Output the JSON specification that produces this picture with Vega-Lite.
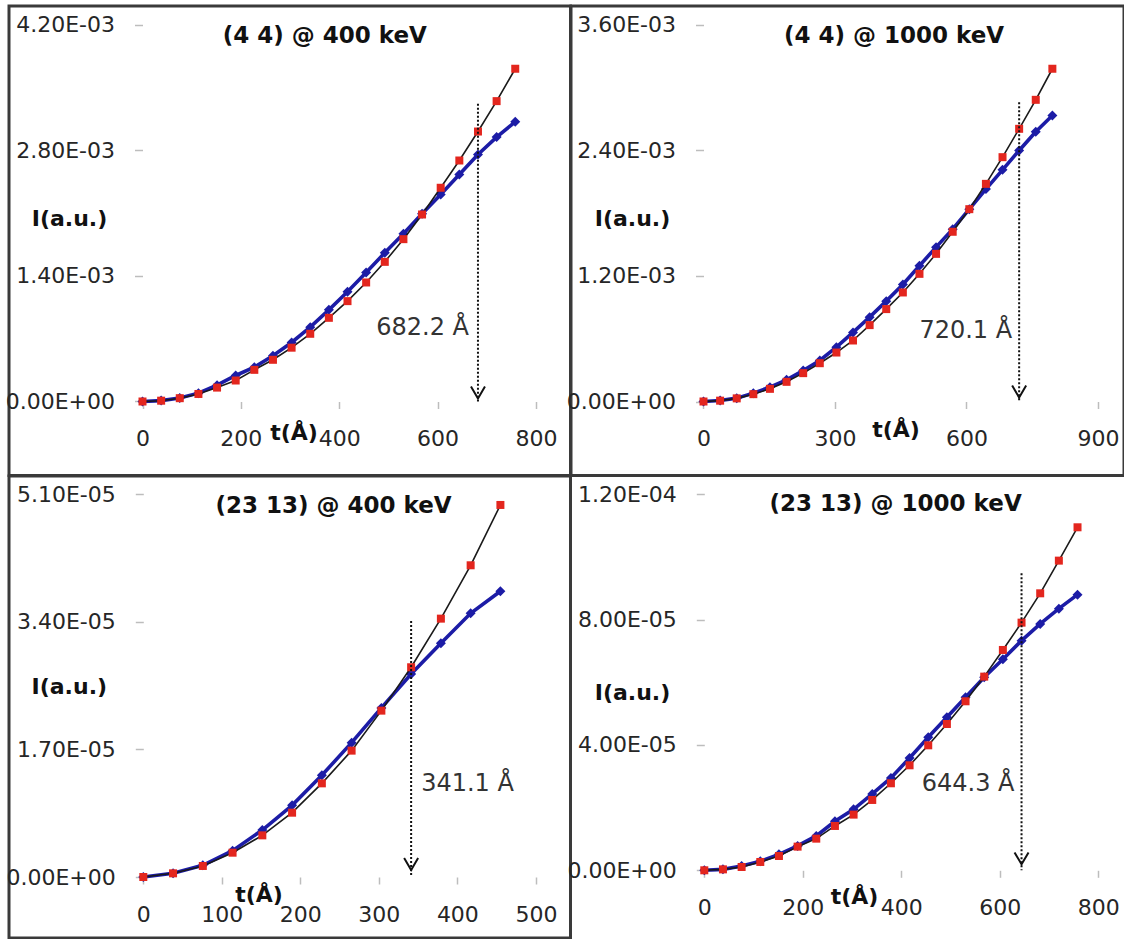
{
  "$schema": "https://vega.github.io/schema/vega-lite/v6.json",
  "background": "white",
  "padding": {"left": 3, "top": 4, "right": 0, "bottom": 0},
  "datasets": {
    "p1": [
      {"t": 0, "red": 0, "blue": 0},
      {"t": 37.9, "red": 0.000009, "blue": 0.00001},
      {"t": 75.8, "red": 0.000037, "blue": 0.00004},
      {"t": 113.7, "red": 0.000084, "blue": 0.000093},
      {"t": 151.6, "red": 0.000155, "blue": 0.000182},
      {"t": 189.5, "red": 0.000234, "blue": 0.00029},
      {"t": 227.4, "red": 0.000353, "blue": 0.000383},
      {"t": 265.3, "red": 0.000465, "blue": 0.00051},
      {"t": 303.2, "red": 0.0006, "blue": 0.000658},
      {"t": 341.1, "red": 0.000755, "blue": 0.000829},
      {"t": 379, "red": 0.000933, "blue": 0.001022},
      {"t": 416.9, "red": 0.001119, "blue": 0.001223},
      {"t": 454.8, "red": 0.001327, "blue": 0.001438},
      {"t": 492.7, "red": 0.001557, "blue": 0.001658},
      {"t": 530.6, "red": 0.00181, "blue": 0.00187},
      {"t": 568.5, "red": 0.002085, "blue": 0.002093},
      {"t": 606.4, "red": 0.002383, "blue": 0.002308},
      {"t": 644.3, "red": 0.002687, "blue": 0.002531},
      {"t": 682.2, "red": 0.00301, "blue": 0.002754},
      {"t": 720.1, "red": 0.003349, "blue": 0.002948},
      {"t": 758, "red": 0.00371, "blue": 0.003119}
    ],
    "p2": [
      {"t": 0, "red": 0, "blue": 0},
      {"t": 37.9, "red": 0.000008, "blue": 0.00001},
      {"t": 75.8, "red": 0.00003, "blue": 0.000032},
      {"t": 113.7, "red": 0.00007, "blue": 0.00008},
      {"t": 151.6, "red": 0.000121, "blue": 0.000137},
      {"t": 189.5, "red": 0.000188, "blue": 0.000207},
      {"t": 227.4, "red": 0.000271, "blue": 0.000296},
      {"t": 265.3, "red": 0.000366, "blue": 0.000392},
      {"t": 303.2, "red": 0.000468, "blue": 0.000519},
      {"t": 341.1, "red": 0.000583, "blue": 0.00066},
      {"t": 379, "red": 0.00073, "blue": 0.000806},
      {"t": 416.9, "red": 0.000883, "blue": 0.000959},
      {"t": 454.8, "red": 0.001042, "blue": 0.001118},
      {"t": 492.7, "red": 0.00122, "blue": 0.001297},
      {"t": 530.6, "red": 0.001411, "blue": 0.001475},
      {"t": 568.5, "red": 0.001622, "blue": 0.001647},
      {"t": 606.4, "red": 0.001838, "blue": 0.001838},
      {"t": 644.3, "red": 0.00208, "blue": 0.00203},
      {"t": 682.2, "red": 0.002335, "blue": 0.002214},
      {"t": 720.1, "red": 0.002606, "blue": 0.002399},
      {"t": 758, "red": 0.002883, "blue": 0.002578},
      {"t": 795.9, "red": 0.00318, "blue": 0.002734}
    ],
    "p3": [
      {"t": 0, "red": 0, "blue": 0},
      {"t": 37.9, "red": 4.9e-7, "blue": 5e-7},
      {"t": 75.8, "red": 0.00000147, "blue": 0.00000156},
      {"t": 113.7, "red": 0.00000324, "blue": 0.00000351},
      {"t": 151.6, "red": 0.00000555, "blue": 0.00000626},
      {"t": 189.5, "red": 0.00000857, "blue": 0.00000955},
      {"t": 227.4, "red": 0.00001248, "blue": 0.00001355},
      {"t": 265.3, "red": 0.00001684, "blue": 0.0000179},
      {"t": 303.2, "red": 0.00002217, "blue": 0.00002253},
      {"t": 341.1, "red": 0.00002795, "blue": 0.00002706},
      {"t": 379, "red": 0.00003443, "blue": 0.00003115},
      {"t": 416.9, "red": 0.00004154, "blue": 0.00003514},
      {"t": 454.8, "red": 0.00004958, "blue": 0.00003808}
    ],
    "p4": [
      {"t": 0, "red": 0, "blue": 0},
      {"t": 37.9, "red": 3e-7, "blue": 3e-7},
      {"t": 75.8, "red": 0.00000106, "blue": 0.00000138},
      {"t": 113.7, "red": 0.00000266, "blue": 0.00000287},
      {"t": 151.6, "red": 0.00000457, "blue": 0.0000051},
      {"t": 189.5, "red": 0.00000755, "blue": 0.00000777},
      {"t": 227.4, "red": 0.0000101, "blue": 0.00001096},
      {"t": 265.3, "red": 0.00001415, "blue": 0.00001564},
      {"t": 303.2, "red": 0.00001777, "blue": 0.00001947},
      {"t": 341.1, "red": 0.00002245, "blue": 0.00002436},
      {"t": 379, "red": 0.00002777, "blue": 0.00002947},
      {"t": 416.9, "red": 0.00003351, "blue": 0.00003585},
      {"t": 454.8, "red": 0.00003989, "blue": 0.00004245},
      {"t": 492.7, "red": 0.0000467, "blue": 0.00004883},
      {"t": 530.6, "red": 0.00005394, "blue": 0.00005521},
      {"t": 568.5, "red": 0.00006181, "blue": 0.0000616},
      {"t": 606.4, "red": 0.00007032, "blue": 0.00006734},
      {"t": 644.3, "red": 0.00007904, "blue": 0.0000733},
      {"t": 682.2, "red": 0.0000884, "blue": 0.00007862},
      {"t": 720.1, "red": 0.00009883, "blue": 0.00008351},
      {"t": 758, "red": 0.00010947, "blue": 0.00008798}
    ],
    "n1": [{"t": 682.2, "ly": 0.000814, "top": 0.003319, "base": 0, "label": "682.2 Å"}],
    "n2": [{"t": 720.1, "ly": 0.0006785, "top": 0.00286, "base": 0, "label": "720.1 Å"}],
    "n3": [{"t": 341.1, "ly": 0.000012354, "top": 0.000034115, "base": 0, "label": "341.1 Å"}],
    "n4": [{"t": 644.3, "ly": 0.00002745, "top": 0.00009479, "base": 0, "label": "644.3 Å"}]
  },
  "config": {
    "font": "DejaVu Sans",
    "view": {"stroke": "#3a3a3a", "strokeWidth": 3},
    "axis": {
      "grid": false, "domain": false,
      "labelFont": "DejaVu Sans", "labelFontSize": 22, "labelColor": "#262626",
      "labelFlush": false, "labelOverlap": false,
      "tickColor": "#bdbdbd", "tickWidth": 1.5,
      "titleFont": "DejaVu Sans", "titleFontSize": 22, "titleFontWeight": "bold", "titleColor": "#111111",
      "titleAlign": "center", "titleBaseline": "middle"
    },
    "axisY": {"tickSize": 8, "labelPadding": 20, "titleAngle": 0},
    "axisX": {"tickSize": 7, "labelPadding": 20},
    "title": {"font": "DejaVu Sans", "fontSize": 23, "fontWeight": "bold", "color": "#111111", "anchor": "middle", "frame": "group", "baseline": "middle"}
  },
  "columns": 2,
  "spacing": 0,
  "bounds": "flush",
  "concat": [
    {
      "width": 561.5, "height": 469.5,
      "title": {"text": "(4 4) @ 400 keV", "dx": 35, "offset": -41.5},
      "data": {"name": "p1"},
      "encoding": {
        "x": {"field": "t", "type": "quantitative", "scale": {"domain": [-271.48, 870.36], "nice": false, "zero": false},
              "axis": {"values": [0, 200, 400, 600, 800], "offset": -74, "title": "t(Å)", "titleX": 284.5, "titleY": 31}},
        "y": {"field": "red", "type": "quantitative", "scale": {"domain": [-0.00082506, 0.00440961], "nice": false, "zero": false},
              "axis": {"values": [0, 0.0014, 0.0028, 0.0042], "offset": -133.5, "title": "I(a.u.)", "titleX": -73.5, "titleY": 212.5,
                       "labelExpr": "replace(replace(format(datum.value, '.2e'), 'e-', 'E-0'), 'e+', 'E+0')"}}
      },
      "layer": [
        {"data": {"values": [{}]}, "mark": {"type": "rule", "color": "#bdbdbd", "strokeWidth": 1.5},
         "encoding": {"x": {"datum": 0}, "y": {"datum": 0}, "y2": {"datum": 0.0042}}},
        {"data": {"values": [{}]}, "mark": {"type": "rule", "color": "#bdbdbd", "strokeWidth": 1.5},
         "encoding": {"x": {"datum": 0}, "x2": {"datum": 800}, "y": {"datum": 0}}},
        {"mark": {"type": "line", "color": "#1c1ca6", "strokeWidth": 3.6}, "encoding": {"y": {"field": "blue", "type": "quantitative"}}},
        {"mark": {"type": "point", "shape": "diamond", "filled": true, "color": "#1c1ca6", "size": 100, "opacity": 1}, "encoding": {"y": {"field": "blue", "type": "quantitative"}}},
        {"mark": {"type": "line", "color": "#1a1a1a", "strokeWidth": 1.6}},
        {"mark": {"type": "point", "shape": "square", "filled": true, "color": "#e3261e", "size": 64, "opacity": 1}},
        {"data": {"name": "n1"}, "mark": {"type": "rule", "color": "#111111", "strokeWidth": 2, "strokeDash": [2, 2]},
         "encoding": {"y": {"field": "top", "type": "quantitative"}, "y2": {"field": "base"}}},
        {"data": {"name": "n1"}, "mark": {"type": "point", "shape": "M-1,-1.7L0,0L1,-1.7", "filled": false, "color": "#111111", "strokeWidth": 2, "size": 196, "opacity": 1, "yOffset": -3},
         "encoding": {"y": {"field": "base", "type": "quantitative"}}},
        {"data": {"name": "n1"}, "mark": {"type": "text", "align": "right", "baseline": "middle", "dx": -9, "fontSize": 24, "color": "#333333"},
         "encoding": {"y": {"field": "ly", "type": "quantitative"}, "text": {"field": "label"}}}
      ]
    },
    {
      "width": 553, "height": 469.5,
      "title": {"text": "(4 4) @ 1000 keV", "dx": 46.5, "offset": -41.5},
      "data": {"name": "p2"},
      "encoding": {
        "x": {"field": "t", "type": "quantitative", "scale": {"domain": [-302.28, 959.32], "nice": false, "zero": false},
              "axis": {"values": [0, 300, 600, 900], "offset": -74, "title": "t(Å)", "titleX": 324.5, "titleY": 27.5}},
        "y": {"field": "red", "type": "quantitative", "scale": {"domain": [-0.00070719, 0.00377967], "nice": false, "zero": false},
              "axis": {"values": [0, 0.0012, 0.0024, 0.0036], "offset": -132.5, "title": "I(a.u.)", "titleX": -71.5, "titleY": 212.5,
                       "labelExpr": "replace(replace(format(datum.value, '.2e'), 'e-', 'E-0'), 'e+', 'E+0')"}}
      },
      "layer": [
        {"data": {"values": [{}]}, "mark": {"type": "rule", "color": "#bdbdbd", "strokeWidth": 1.5},
         "encoding": {"x": {"datum": 0}, "y": {"datum": 0}, "y2": {"datum": 0.0036}}},
        {"data": {"values": [{}]}, "mark": {"type": "rule", "color": "#bdbdbd", "strokeWidth": 1.5},
         "encoding": {"x": {"datum": 0}, "x2": {"datum": 900}, "y": {"datum": 0}}},
        {"mark": {"type": "line", "color": "#1c1ca6", "strokeWidth": 3.6}, "encoding": {"y": {"field": "blue", "type": "quantitative"}}},
        {"mark": {"type": "point", "shape": "diamond", "filled": true, "color": "#1c1ca6", "size": 100, "opacity": 1}, "encoding": {"y": {"field": "blue", "type": "quantitative"}}},
        {"mark": {"type": "line", "color": "#1a1a1a", "strokeWidth": 1.6}},
        {"mark": {"type": "point", "shape": "square", "filled": true, "color": "#e3261e", "size": 64, "opacity": 1}},
        {"data": {"name": "n2"}, "mark": {"type": "rule", "color": "#111111", "strokeWidth": 2, "strokeDash": [2, 2]},
         "encoding": {"y": {"field": "top", "type": "quantitative"}, "y2": {"field": "base"}}},
        {"data": {"name": "n2"}, "mark": {"type": "point", "shape": "M-1,-1.7L0,0L1,-1.7", "filled": false, "color": "#111111", "strokeWidth": 2, "size": 196, "opacity": 1, "yOffset": -4},
         "encoding": {"y": {"field": "base", "type": "quantitative"}}},
        {"data": {"name": "n2"}, "mark": {"type": "text", "align": "right", "baseline": "middle", "dx": -7, "fontSize": 24, "color": "#333333"},
         "encoding": {"y": {"field": "ly", "type": "quantitative"}, "text": {"field": "label"}}}
      ]
    },
    {
      "width": 561.5, "height": 462,
      "title": {"text": "(23 13) @ 400 keV", "dx": 43.75, "offset": -42},
      "data": {"name": "p3"},
      "encoding": {
        "x": {"field": "t", "type": "quantitative", "scale": {"domain": [-171.04, 544.07], "nice": false, "zero": false},
              "axis": {"values": [0, 100, 200, 300, 400, 500], "offset": -61, "title": "t(Å)", "titleX": 249.5, "titleY": 17.5}},
        "y": {"field": "red", "type": "quantitative", "scale": {"domain": [-0.0000081291, 0.0000534388], "nice": false, "zero": false},
              "axis": {"values": [0, 0.000017, 0.000034, 0.000051], "offset": -134.3, "title": "I(a.u.)", "titleX": -74.5, "titleY": 210,
                       "labelExpr": "replace(replace(format(datum.value, '.2e'), 'e-', 'E-0'), 'e+', 'E+0')"}}
      },
      "layer": [
        {"data": {"values": [{}]}, "mark": {"type": "rule", "color": "#bdbdbd", "strokeWidth": 1.5},
         "encoding": {"x": {"datum": 0}, "y": {"datum": 0}, "y2": {"datum": 0.000051}}},
        {"data": {"values": [{}]}, "mark": {"type": "rule", "color": "#bdbdbd", "strokeWidth": 1.5},
         "encoding": {"x": {"datum": 0}, "x2": {"datum": 500}, "y": {"datum": 0}}},
        {"mark": {"type": "line", "color": "#1c1ca6", "strokeWidth": 3.6}, "encoding": {"y": {"field": "blue", "type": "quantitative"}}},
        {"mark": {"type": "point", "shape": "diamond", "filled": true, "color": "#1c1ca6", "size": 100, "opacity": 1}, "encoding": {"y": {"field": "blue", "type": "quantitative"}}},
        {"mark": {"type": "line", "color": "#1a1a1a", "strokeWidth": 1.6}},
        {"mark": {"type": "point", "shape": "square", "filled": true, "color": "#e3261e", "size": 64, "opacity": 1}},
        {"data": {"name": "n3"}, "mark": {"type": "rule", "color": "#111111", "strokeWidth": 2, "strokeDash": [2, 2]},
         "encoding": {"y": {"field": "top", "type": "quantitative"}, "y2": {"field": "base"}}},
        {"data": {"name": "n3"}, "mark": {"type": "point", "shape": "M-1,-1.7L0,0L1,-1.7", "filled": false, "color": "#111111", "strokeWidth": 2, "size": 196, "opacity": 1, "yOffset": -7},
         "encoding": {"y": {"field": "base", "type": "quantitative"}}},
        {"data": {"name": "n3"}, "mark": {"type": "text", "align": "left", "baseline": "middle", "dx": 10, "fontSize": 24, "color": "#333333"},
         "encoding": {"y": {"field": "ly", "type": "quantitative"}, "text": {"field": "label"}}}
      ]
    },
    {
      "width": 553, "height": 462,
      "view": {"stroke": null},
      "title": {"text": "(23 13) @ 1000 keV", "dx": 48.1, "offset": -40},
      "data": {"name": "p4"},
      "encoding": {
        "x": {"field": "t", "type": "quantitative", "scale": {"domain": [-270.73, 852.4], "nice": false, "zero": false},
              "axis": {"values": [0, 200, 400, 600, 800], "offset": -67.7, "title": "t(Å)", "titleX": 283, "titleY": 26.2}},
        "y": {"field": "red", "type": "quantitative", "scale": {"domain": [-0.0000216064, 0.00012584], "nice": false, "zero": false},
              "axis": {"values": [0, 0.00004, 0.00008, 0.00012], "offset": -133.3, "title": "I(a.u.)", "titleX": -72.3, "titleY": 216.7,
                       "labelExpr": "replace(replace(format(datum.value, '.2e'), 'e-', 'E-0'), 'e+', 'E+0')"}}
      },
      "layer": [
        {"data": {"values": [{}]}, "mark": {"type": "rule", "color": "#bdbdbd", "strokeWidth": 1.5},
         "encoding": {"x": {"datum": 0}, "y": {"datum": 0}, "y2": {"datum": 0.00012}}},
        {"data": {"values": [{}]}, "mark": {"type": "rule", "color": "#bdbdbd", "strokeWidth": 1.5},
         "encoding": {"x": {"datum": 0}, "x2": {"datum": 800}, "y": {"datum": 0}}},
        {"mark": {"type": "line", "color": "#1c1ca6", "strokeWidth": 3.6}, "encoding": {"y": {"field": "blue", "type": "quantitative"}}},
        {"mark": {"type": "point", "shape": "diamond", "filled": true, "color": "#1c1ca6", "size": 100, "opacity": 1}, "encoding": {"y": {"field": "blue", "type": "quantitative"}}},
        {"mark": {"type": "line", "color": "#1a1a1a", "strokeWidth": 1.6}},
        {"mark": {"type": "point", "shape": "square", "filled": true, "color": "#e3261e", "size": 64, "opacity": 1}},
        {"data": {"name": "n4"}, "mark": {"type": "rule", "color": "#111111", "strokeWidth": 2, "strokeDash": [2, 2]},
         "encoding": {"y": {"field": "top", "type": "quantitative"}, "y2": {"field": "base"}}},
        {"data": {"name": "n4"}, "mark": {"type": "point", "shape": "M-1,-1.7L0,0L1,-1.7", "filled": false, "color": "#111111", "strokeWidth": 2, "size": 196, "opacity": 1, "yOffset": -6},
         "encoding": {"y": {"field": "base", "type": "quantitative"}}},
        {"data": {"name": "n4"}, "mark": {"type": "text", "align": "right", "baseline": "middle", "dx": -7, "fontSize": 24, "color": "#333333"},
         "encoding": {"y": {"field": "ly", "type": "quantitative"}, "text": {"field": "label"}}}
      ]
    }
  ]
}
